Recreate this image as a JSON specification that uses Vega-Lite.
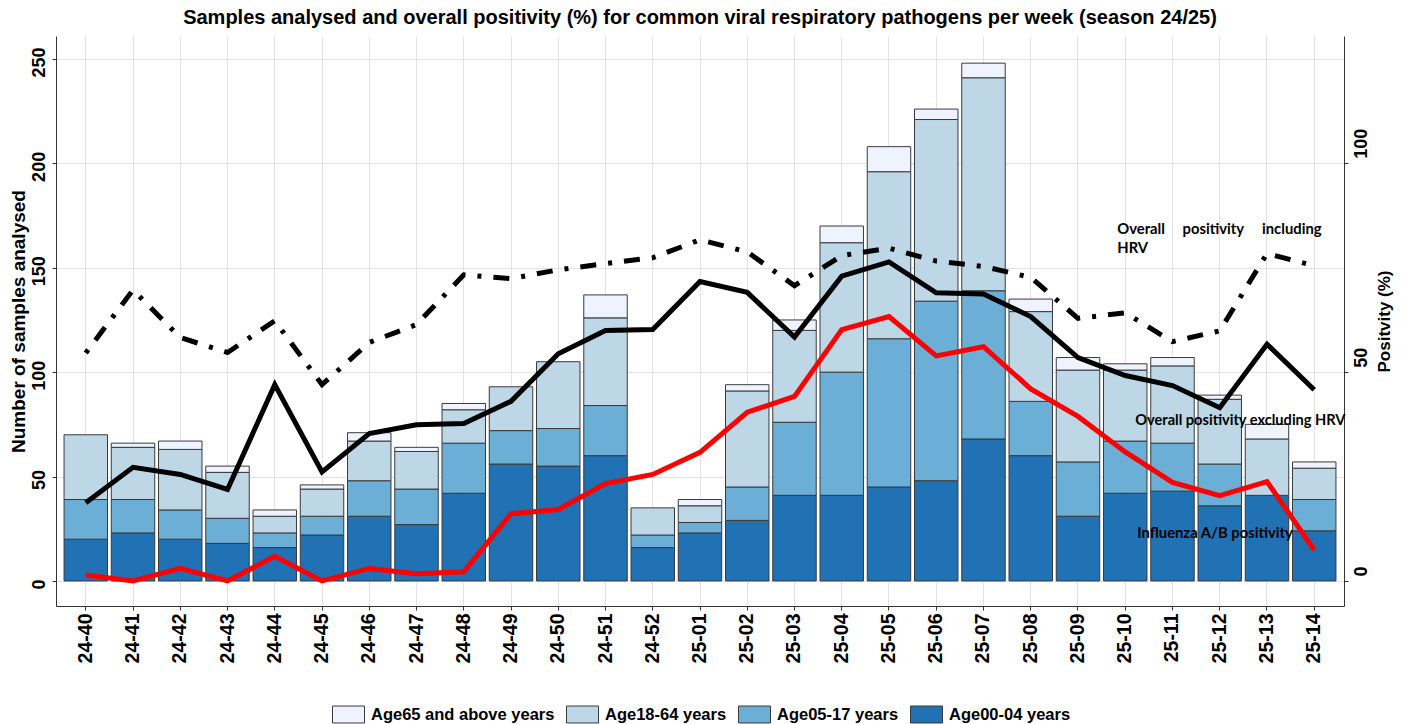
{
  "$schema": "https://vega.github.io/schema/vega-lite/v6.json",
  "width": 1288,
  "height": 570,
  "autosize": {"type": "none"},
  "padding": {"left": 56, "top": 36, "right": 61, "bottom": 118},
  "background": "white",
  "title": {
    "text": "Samples analysed and overall positivity (%) for common viral respiratory pathogens per week (season 24/25)",
    "font": "Liberation Sans",
    "fontSize": 20,
    "fontWeight": "bold",
    "color": "black",
    "anchor": "middle",
    "offset": 8
  },
  "datasets": {
    "bars": [
      {"week": "24-40", "age": "Age00-04 years", "n": 20}, {"week": "24-40", "age": "Age05-17 years", "n": 19}, {"week": "24-40", "age": "Age18-64 years", "n": 31},
      {"week": "24-41", "age": "Age00-04 years", "n": 23}, {"week": "24-41", "age": "Age05-17 years", "n": 16}, {"week": "24-41", "age": "Age18-64 years", "n": 25}, {"week": "24-41", "age": "Age65 and above years", "n": 2},
      {"week": "24-42", "age": "Age00-04 years", "n": 20}, {"week": "24-42", "age": "Age05-17 years", "n": 14}, {"week": "24-42", "age": "Age18-64 years", "n": 29}, {"week": "24-42", "age": "Age65 and above years", "n": 4},
      {"week": "24-43", "age": "Age00-04 years", "n": 18}, {"week": "24-43", "age": "Age05-17 years", "n": 12}, {"week": "24-43", "age": "Age18-64 years", "n": 22}, {"week": "24-43", "age": "Age65 and above years", "n": 3},
      {"week": "24-44", "age": "Age00-04 years", "n": 16}, {"week": "24-44", "age": "Age05-17 years", "n": 7}, {"week": "24-44", "age": "Age18-64 years", "n": 8}, {"week": "24-44", "age": "Age65 and above years", "n": 3},
      {"week": "24-45", "age": "Age00-04 years", "n": 22}, {"week": "24-45", "age": "Age05-17 years", "n": 9}, {"week": "24-45", "age": "Age18-64 years", "n": 13}, {"week": "24-45", "age": "Age65 and above years", "n": 2},
      {"week": "24-46", "age": "Age00-04 years", "n": 31}, {"week": "24-46", "age": "Age05-17 years", "n": 17}, {"week": "24-46", "age": "Age18-64 years", "n": 19}, {"week": "24-46", "age": "Age65 and above years", "n": 4},
      {"week": "24-47", "age": "Age00-04 years", "n": 27}, {"week": "24-47", "age": "Age05-17 years", "n": 17}, {"week": "24-47", "age": "Age18-64 years", "n": 18}, {"week": "24-47", "age": "Age65 and above years", "n": 2},
      {"week": "24-48", "age": "Age00-04 years", "n": 42}, {"week": "24-48", "age": "Age05-17 years", "n": 24}, {"week": "24-48", "age": "Age18-64 years", "n": 16}, {"week": "24-48", "age": "Age65 and above years", "n": 3},
      {"week": "24-49", "age": "Age00-04 years", "n": 56}, {"week": "24-49", "age": "Age05-17 years", "n": 16}, {"week": "24-49", "age": "Age18-64 years", "n": 21},
      {"week": "24-50", "age": "Age00-04 years", "n": 55}, {"week": "24-50", "age": "Age05-17 years", "n": 18}, {"week": "24-50", "age": "Age18-64 years", "n": 32},
      {"week": "24-51", "age": "Age00-04 years", "n": 60}, {"week": "24-51", "age": "Age05-17 years", "n": 24}, {"week": "24-51", "age": "Age18-64 years", "n": 42}, {"week": "24-51", "age": "Age65 and above years", "n": 11},
      {"week": "24-52", "age": "Age00-04 years", "n": 16}, {"week": "24-52", "age": "Age05-17 years", "n": 6}, {"week": "24-52", "age": "Age18-64 years", "n": 13},
      {"week": "25-01", "age": "Age00-04 years", "n": 23}, {"week": "25-01", "age": "Age05-17 years", "n": 5}, {"week": "25-01", "age": "Age18-64 years", "n": 8}, {"week": "25-01", "age": "Age65 and above years", "n": 3},
      {"week": "25-02", "age": "Age00-04 years", "n": 29}, {"week": "25-02", "age": "Age05-17 years", "n": 16}, {"week": "25-02", "age": "Age18-64 years", "n": 46}, {"week": "25-02", "age": "Age65 and above years", "n": 3},
      {"week": "25-03", "age": "Age00-04 years", "n": 41}, {"week": "25-03", "age": "Age05-17 years", "n": 35}, {"week": "25-03", "age": "Age18-64 years", "n": 44}, {"week": "25-03", "age": "Age65 and above years", "n": 5},
      {"week": "25-04", "age": "Age00-04 years", "n": 41}, {"week": "25-04", "age": "Age05-17 years", "n": 59}, {"week": "25-04", "age": "Age18-64 years", "n": 62}, {"week": "25-04", "age": "Age65 and above years", "n": 8},
      {"week": "25-05", "age": "Age00-04 years", "n": 45}, {"week": "25-05", "age": "Age05-17 years", "n": 71}, {"week": "25-05", "age": "Age18-64 years", "n": 80}, {"week": "25-05", "age": "Age65 and above years", "n": 12},
      {"week": "25-06", "age": "Age00-04 years", "n": 48}, {"week": "25-06", "age": "Age05-17 years", "n": 86}, {"week": "25-06", "age": "Age18-64 years", "n": 87}, {"week": "25-06", "age": "Age65 and above years", "n": 5},
      {"week": "25-07", "age": "Age00-04 years", "n": 68}, {"week": "25-07", "age": "Age05-17 years", "n": 71}, {"week": "25-07", "age": "Age18-64 years", "n": 102}, {"week": "25-07", "age": "Age65 and above years", "n": 7},
      {"week": "25-08", "age": "Age00-04 years", "n": 60}, {"week": "25-08", "age": "Age05-17 years", "n": 26}, {"week": "25-08", "age": "Age18-64 years", "n": 43}, {"week": "25-08", "age": "Age65 and above years", "n": 6},
      {"week": "25-09", "age": "Age00-04 years", "n": 31}, {"week": "25-09", "age": "Age05-17 years", "n": 26}, {"week": "25-09", "age": "Age18-64 years", "n": 44}, {"week": "25-09", "age": "Age65 and above years", "n": 6},
      {"week": "25-10", "age": "Age00-04 years", "n": 42}, {"week": "25-10", "age": "Age05-17 years", "n": 25}, {"week": "25-10", "age": "Age18-64 years", "n": 34}, {"week": "25-10", "age": "Age65 and above years", "n": 3},
      {"week": "25-11", "age": "Age00-04 years", "n": 43}, {"week": "25-11", "age": "Age05-17 years", "n": 23}, {"week": "25-11", "age": "Age18-64 years", "n": 37}, {"week": "25-11", "age": "Age65 and above years", "n": 4},
      {"week": "25-12", "age": "Age00-04 years", "n": 36}, {"week": "25-12", "age": "Age05-17 years", "n": 20}, {"week": "25-12", "age": "Age18-64 years", "n": 31}, {"week": "25-12", "age": "Age65 and above years", "n": 2},
      {"week": "25-13", "age": "Age00-04 years", "n": 41}, {"week": "25-13", "age": "Age18-64 years", "n": 27}, {"week": "25-13", "age": "Age65 and above years", "n": 7},
      {"week": "25-14", "age": "Age00-04 years", "n": 24}, {"week": "25-14", "age": "Age05-17 years", "n": 15}, {"week": "25-14", "age": "Age18-64 years", "n": 15}, {"week": "25-14", "age": "Age65 and above years", "n": 3}
    ],
    "lines": [
      {"week": "24-40", "excl": 18.7, "incl": 54.6, "flu": 1.4},
      {"week": "24-41", "excl": 27.2, "incl": 69.7, "flu": 0},
      {"week": "24-42", "excl": 25.5, "incl": 58.3, "flu": 3},
      {"week": "24-43", "excl": 21.9, "incl": 54.7, "flu": 0},
      {"week": "24-44", "excl": 47, "incl": 62.3, "flu": 5.9},
      {"week": "24-45", "excl": 26.1, "incl": 47, "flu": 0},
      {"week": "24-46", "excl": 35.3, "incl": 57.1, "flu": 3},
      {"week": "24-47", "excl": 37.4, "incl": 61.4, "flu": 1.7},
      {"week": "24-48", "excl": 37.7, "incl": 73.3, "flu": 2.2},
      {"week": "24-49", "excl": 43, "incl": 72.4, "flu": 16.1},
      {"week": "24-50", "excl": 54.4, "incl": 74.5, "flu": 17.1},
      {"week": "24-51", "excl": 60, "incl": 76, "flu": 23.3},
      {"week": "24-52", "excl": 60.2, "incl": 77.4, "flu": 25.5},
      {"week": "25-01", "excl": 71.7, "incl": 81.7, "flu": 30.8},
      {"week": "25-02", "excl": 69.1, "incl": 78.8, "flu": 40.4},
      {"week": "25-03", "excl": 58.4, "incl": 70.7, "flu": 44.2},
      {"week": "25-04", "excl": 73, "incl": 77.9, "flu": 60.2},
      {"week": "25-05", "excl": 76.4, "incl": 79.7, "flu": 63.3},
      {"week": "25-06", "excl": 69, "incl": 76.6, "flu": 53.9},
      {"week": "25-07", "excl": 68.7, "incl": 75.3, "flu": 56.1},
      {"week": "25-08", "excl": 63.3, "incl": 72.7, "flu": 46},
      {"week": "25-09", "excl": 53.5, "incl": 62.9, "flu": 39.4},
      {"week": "25-10", "excl": 49.2, "incl": 64.2, "flu": 30.9},
      {"week": "25-11", "excl": 46.8, "incl": 57.3, "flu": 23.6},
      {"week": "25-12", "excl": 41.5, "incl": 59.9, "flu": 20.4},
      {"week": "25-13", "excl": 56.7, "incl": 78.4, "flu": 23.8},
      {"week": "25-14", "excl": 45.8, "incl": 75.5, "flu": 7.4}
    ]
  },
  "layer": [
    {
      "layer": [
        {
          "data": {"name": "bars"},
          "mark": {"type": "bar", "stroke": "#3a3a3a", "strokeWidth": 1, "opacity": 1},
          "encoding": {
            "x": {
              "field": "week", "type": "nominal", "title": null,
              "scale": {"paddingInner": 0.08, "paddingOuter": 0.17},
              "axis": {
                "labelAngle": 270, "labelAlign": "right", "labelBaseline": "middle",
                "labelFontSize": 19.5, "labelFontWeight": "bold", "labelColor": "black",
                "labelPadding": 3, "tickSize": 4, "tickColor": "#333333", "domainColor": "#333333",
                "grid": true, "gridColor": "#e2e2e2", "bandPosition": 0.5
              }
            },
            "y": {
              "field": "n", "type": "quantitative", "title": "Number of samples analysed",
              "scale": {"domain": [-12, 261], "nice": false, "zero": false},
              "axis": {
                "orient": "left", "values": [0, 50, 100, 150, 200, 250],
                "labelAngle": 270, "labelAlign": "center", "labelBaseline": "bottom",
                "labelFontSize": 18, "labelFontWeight": "bold", "labelColor": "black",
                "labelPadding": 4, "labelOffset": 3, "tickSize": 4, "tickColor": "#333333", "domainColor": "#333333",
                "grid": true, "gridColor": "#e2e2e2",
                "titleFontSize": 19, "titleFontWeight": "bold", "titleColor": "black", "titlePadding": 2
              }
            },
            "color": {
              "field": "age", "type": "nominal",
              "scale": {
                "domain": ["Age65 and above years", "Age18-64 years", "Age05-17 years", "Age00-04 years"],
                "range": ["#eff3ff", "#bdd7e7", "#6baed6", "#2171b5"]
              },
              "legend": {
                "orient": "none", "legendX": 276, "legendY": 662, "direction": "horizontal", "title": null,
                "labelFontSize": 16.5, "labelFontWeight": "bold", "labelColor": "black", "labelFont": "Liberation Sans",
                "labelLimit": 400,
                "symbolType": "M-1,-0.53H1V0.53H-1Z", "symbolSize": 1024, "symbolStrokeColor": "#3a3a3a",
                "symbolStrokeWidth": 1, "symbolOpacity": 1, "labelOffset": 6, "columnPadding": 9
              }
            },
            "order": {"field": "age", "sort": "ascending"}
          }
        },
        {
          "data": {"values": [{}]},
          "mark": {"type": "text", "text": "Overall", "align": "left", "baseline": "middle", "dx": -8, "font": "Lato", "fontSize": 14.8, "fontWeight": "bold", "color": "black"},
          "encoding": {"x": {"datum": "25-10", "type": "nominal", "bandPosition": 0.5}, "y": {"datum": 167.9, "type": "quantitative"}}
        },
        {
          "data": {"values": [{}]},
          "mark": {"type": "text", "text": "HRV", "align": "left", "baseline": "middle", "dx": -8, "font": "Lato", "fontSize": 14.8, "fontWeight": "bold", "color": "black"},
          "encoding": {"x": {"datum": "25-10", "type": "nominal", "bandPosition": 0.5}, "y": {"datum": 159, "type": "quantitative"}}
        },
        {
          "data": {"values": [{}]},
          "mark": {"type": "text", "text": "positivity", "align": "left", "baseline": "middle", "dx": 10, "font": "Lato", "fontSize": 14.8, "fontWeight": "bold", "color": "black"},
          "encoding": {"x": {"datum": "25-11", "type": "nominal", "bandPosition": 0.5}, "y": {"datum": 167.9, "type": "quantitative"}}
        },
        {
          "data": {"values": [{}]},
          "mark": {"type": "text", "text": "including", "align": "left", "baseline": "middle", "dx": -5, "font": "Lato", "fontSize": 14.8, "fontWeight": "bold", "color": "black"},
          "encoding": {"x": {"datum": "25-13", "type": "nominal", "bandPosition": 0.5}, "y": {"datum": 167.9, "type": "quantitative"}}
        },
        {
          "data": {"values": [{}]},
          "mark": {"type": "text", "text": "Overall positivity excluding HRV", "align": "left", "baseline": "middle", "dx": 10, "font": "Lato", "fontSize": 14.6, "fontWeight": "bold", "color": "black"},
          "encoding": {"x": {"datum": "25-10", "type": "nominal", "bandPosition": 0.5}, "y": {"datum": 76.4, "type": "quantitative"}}
        },
        {
          "data": {"values": [{}]},
          "mark": {"type": "text", "text": "Influenza A/B positivity", "align": "left", "baseline": "middle", "dx": 12, "font": "Lato", "fontSize": 14.8, "fontWeight": "bold", "color": "black"},
          "encoding": {"x": {"datum": "25-10", "type": "nominal", "bandPosition": 0.5}, "y": {"datum": 22.6, "type": "quantitative"}}
        }
      ]
    },
    {
      "layer": [
        {
          "data": {"name": "lines"},
          "mark": {"type": "line", "color": "black", "strokeWidth": 5, "strokeDash": [4, 12, 16, 12]},
          "encoding": {
            "x": {"field": "week", "type": "nominal", "title": null, "bandPosition": 0.5},
            "y": {
              "field": "incl", "type": "quantitative", "title": "Positvity (%)",
              "scale": {"domain": [-6, 130.5], "nice": false, "zero": false},
              "axis": {
                "orient": "right", "values": [0, 50, 100], "grid": false,
                "labelAngle": 270, "labelAlign": "left", "labelBaseline": "top", "labelOffset": -5,
                "labelFontSize": 18, "labelFontWeight": "bold", "labelColor": "black", "labelPadding": 4,
                "tickSize": 4, "tickColor": "#333333", "domainColor": "#333333",
                "titleFontSize": 17, "titleFontWeight": "bold", "titleColor": "black", "titleAngle": 270,
                "titleBaseline": "top", "titlePadding": 6
              }
            }
          }
        },
        {
          "data": {"name": "lines"},
          "mark": {"type": "line", "color": "black", "strokeWidth": 5},
          "encoding": {
            "x": {"field": "week", "type": "nominal", "title": null, "bandPosition": 0.5},
            "y": {"field": "excl", "type": "quantitative", "title": "Positvity (%)"}
          }
        },
        {
          "data": {"name": "lines"},
          "mark": {"type": "line", "color": "#ff0000", "strokeWidth": 5},
          "encoding": {
            "x": {"field": "week", "type": "nominal", "title": null, "bandPosition": 0.5},
            "y": {"field": "flu", "type": "quantitative", "title": "Positvity (%)"}
          }
        }
      ]
    }
  ],
  "resolve": {"scale": {"y": "independent"}},
  "config": {
    "font": "Liberation Sans",
    "view": {"stroke": null},
    "axis": {"labelFont": "Liberation Sans", "titleFont": "Liberation Sans"}
  }
}
